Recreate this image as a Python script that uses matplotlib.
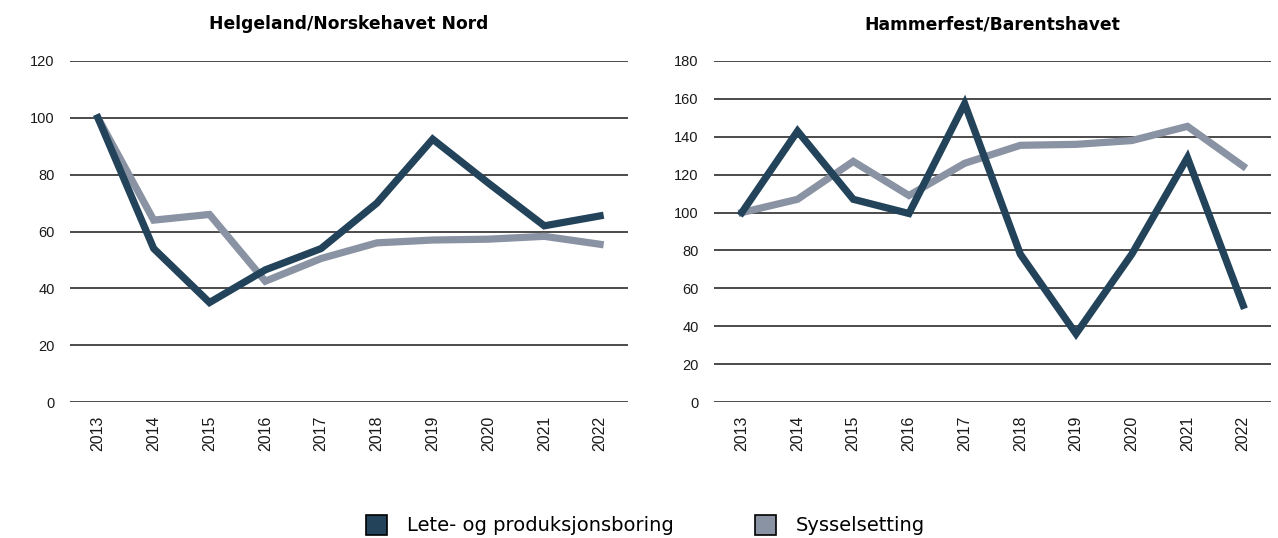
import numpy as np
import matplotlib.pyplot as plt
from matplotlib.patches import Patch

years = ['2013', '2014', '2015', '2016', '2017', '2018', '2019', '2020', '2021', '2022']

# Helgeland/Norskehavet Nord
helg_boring = [100, 54, 35, 46.5, 54, 70, 92.5, 77, 62, 65.5]
helg_syssel = [100, 64, 66, 42.5, 50.5, 56, 57, 57.3, 58.3, 55.5]

# Hammerfest/Barentshavet
hamm_boring = [100, 143, 107, 99.5, 157.5, 78, 36, 78, 129, 51]
hamm_syssel = [100, 107, 127, 109, 126, 135.5, 136, 138, 145.5, 124.5]

dark = '#22435a'
grey = '#8a93a3'

plt.rcParams['font.family'] = ['Liberation Sans', 'DejaVu Sans']

fig = plt.figure(figsize=(12.78, 5.38), dpi=100)
ax1 = fig.add_axes([70/1278, 1-402/538, 558/1278, 341/538])
ax2 = fig.add_axes([714/1278, 1-402/538, 557/1278, 341/538])

def draw(ax, boring, syssel, ymax, step, title):
    x = np.arange(len(years))
    ax.plot(x, syssel, color=grey, lw=5.2, solid_joinstyle='miter', zorder=3)
    ax.plot(x, boring, color=dark, lw=5.2, solid_joinstyle='miter', zorder=4)
    ax.set_ylim(0, ymax)
    ax.set_xlim(-0.5, 9.5)
    ax.set_yticks(np.arange(0, ymax+1, step))
    ax.set_xticks(x)
    ax.set_xticklabels(years, rotation=90)
    ax.grid(axis='y', color='#1a1a1a', lw=1.1, zorder=1)
    ax.set_axisbelow(True)
    for s in ax.spines.values():
        s.set_visible(False)
    ax.tick_params(axis='both', length=0, colors='#1a1a1a')
    ax.tick_params(axis='y', pad=11, labelsize=10.5)
    ax.tick_params(axis='x', pad=10, labelsize=11.5)
    ax.set_title(title, fontsize=12.3, fontweight='bold', pad=23,
                 family='DejaVu Sans')

draw(ax1, helg_boring, helg_syssel, 120, 20, 'Helgeland/Norskehavet Nord')
draw(ax2, hamm_boring, hamm_syssel, 180, 20, 'Hammerfest/Barentshavet')

handles = [Patch(facecolor=dark, edgecolor='black', lw=1.2),
           Patch(facecolor=grey, edgecolor='black', lw=1.2)]
fig.legend(handles, ['Lete- og produksjonsboring', 'Sysselsetting'],
           loc='center', bbox_to_anchor=(0.505, 1-525/538), ncol=2, frameon=False,
           prop={'family': 'DejaVu Sans', 'size': 14}, handlelength=1.1,
           handleheight=1.2, columnspacing=4.2, handletextpad=1.0)

fig.savefig('out.png', dpi=100)
